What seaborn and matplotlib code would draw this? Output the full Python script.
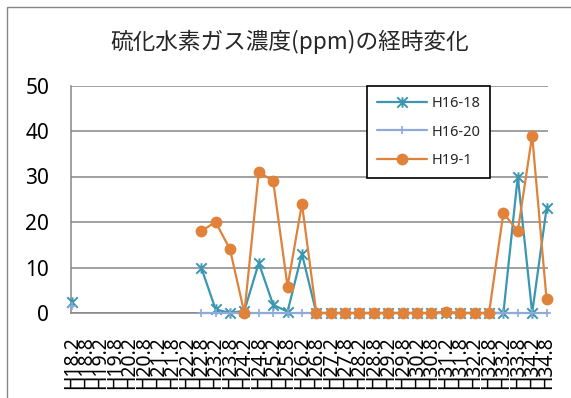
import pandas as pd
import numpy as np
import matplotlib
matplotlib.use("Agg")
import matplotlib.pyplot as plt
from matplotlib.path import Path
from matplotlib.lines import Line2D
from matplotlib.patches import Rectangle
import seaborn as sns

sns.set_style("white")
plt.rcParams['font.family'] = ['Noto Sans', 'Noto Sans CJK JP', 'DejaVu Sans']

# sampling dates (tick labels)
dates = ['H18.2', 'H18.8', 'H19.2', 'H19.8', 'H20.2', 'H20.8', 'H21.2', 'H21.8',
         'H22.2', 'H22.8', 'H23.2', 'H23.8', 'H24.2', 'H24.8', 'H25.2', 'H25.8',
         'H26.2', 'H26.8', 'H27.2', 'H27.8', 'H28.2', 'H28.8', 'H29.2', 'H29.8',
         'H30.2', 'H30.8', 'H31.2', 'H31.8', 'H32.2', 'H32.8', 'H33.2', 'H33.8',
         'H34.2', 'H34.8']

nan = np.nan
h16_18 = [2.5, nan, nan, nan, nan, nan, nan, nan, nan,
          10, 0.8, 0, 0.5, 11, 1.8, 0.3, 13,
          0, 0, 0, 0, 0, 0, 0, 0, 0, 0, 0, 0, 0,
          0, 30, 0, 23]
h16_20 = [1.5, nan, nan, nan, nan, nan, nan, nan, nan,
          0, 0, 0, 0, 0, 0, 0, 0,
          0, 0, 0, 0, 0, 0, 0, 0, 0, 0, 0, 0, 0,
          0, 0, 0, 0]
h19_1 = [nan, nan, nan, nan, nan, nan, nan, nan, nan,
         18, 20, 14, 0, 31, 29, 5.8, 24,
         0, 0, 0, 0, 0, 0, 0, 0, 0, 0.3, 0, 0, 0,
         22, 18, 39, 3]

series_names = ['H16-18', 'H16-20', 'H19-1']
series_vals = [h16_18, h16_20, h19_1]
colors = ['#3b97b1', '#8fa9da', '#e0823a']

# Excel style star: X with a vertical bar
star = Path([(-1, -1), (1, 1), (-1, 1), (1, -1), (0, -1), (0, 1)],
            [Path.MOVETO, Path.LINETO, Path.MOVETO, Path.LINETO, Path.MOVETO, Path.LINETO])
styles = [dict(marker=star, markersize=7.5, markeredgewidth=1.4, linewidth=1.6),
          dict(marker='+', markersize=6, markeredgewidth=1.2, linewidth=1.6),
          dict(marker='o', markersize=8.5, markeredgewidth=0, linewidth=1.6)]

fig = plt.figure(figsize=(5.71, 3.98), dpi=100)
ax = fig.add_axes([70.7 / 571, 85 / 398, 477.3 / 571, 227.5 / 398])

for name, vals, c, st in zip(series_names, series_vals, colors, styles):
    s = pd.Series(vals, dtype=float)
    df = pd.DataFrame({'x': range(len(vals)), 'y': s, 'seg': s.isna().cumsum()}).dropna()
    sns.lineplot(data=df, x='x', y='y', units='seg', estimator=None, ax=ax,
                 color=c, markeredgecolor=c, markerfacecolor=c, legend=False,
                 clip_on=False, zorder=3, **st)

ax.set_ylim(0, 50)
ax.set_xlim(-0.07, 33.1)
ax.set_yticks(range(0, 51, 10))
ax.set_xticks(range(len(dates)))
ax.set_xticklabels(dates, rotation=90)
ax.set_xlabel('')
ax.set_ylabel('')

grey = '#868686'
ax.yaxis.grid(True, color=grey, linewidth=1.1)
ax.set_axisbelow(True)
for side in ['top', 'right']:
    ax.spines[side].set_visible(False)
for side in ['left', 'bottom']:
    ax.spines[side].set_color(grey)
    ax.spines[side].set_linewidth(1.1)
    ax.spines[side].set_zorder(1)
ax.tick_params(axis='y', length=5, width=1.1, color=grey, pad=10.5, labelsize=15, labelcolor='black')
ax.tick_params(axis='x', length=3.6, width=1, color=grey, pad=13, labelsize=14, labelcolor='black')

handles = [Line2D([], [], color=c, markeredgecolor=c, **st) for c, st in zip(colors, styles)]
leg = ax.legend(handles, series_names, loc='upper left', bbox_to_anchor=(0.621, 0.997),
                fontsize=10.5, frameon=True, fancybox=False, framealpha=1,
                edgecolor='black', borderpad=0.7, labelspacing=0.9,
                handlelength=3.4, handletextpad=0.3, borderaxespad=0)
leg.get_frame().set_linewidth(1.2)
leg.set_zorder(5)

fig.text(290 / 571, 1 - 42 / 398, '硫化水素ガス濃度(ppm)の経時変化', ha='center', va='center',
         fontsize=16.3, family=['Noto Sans CJK JP', 'DejaVu Sans'])

# chart area border (runs off the right and bottom edges)
fig.patches.append(Rectangle((7 / 571, -0.1), 1.2, 1.1 - 7 / 398, transform=fig.transFigure,
                             fill=False, edgecolor=grey, linewidth=1))

fig.savefig('out.png', dpi=100)
